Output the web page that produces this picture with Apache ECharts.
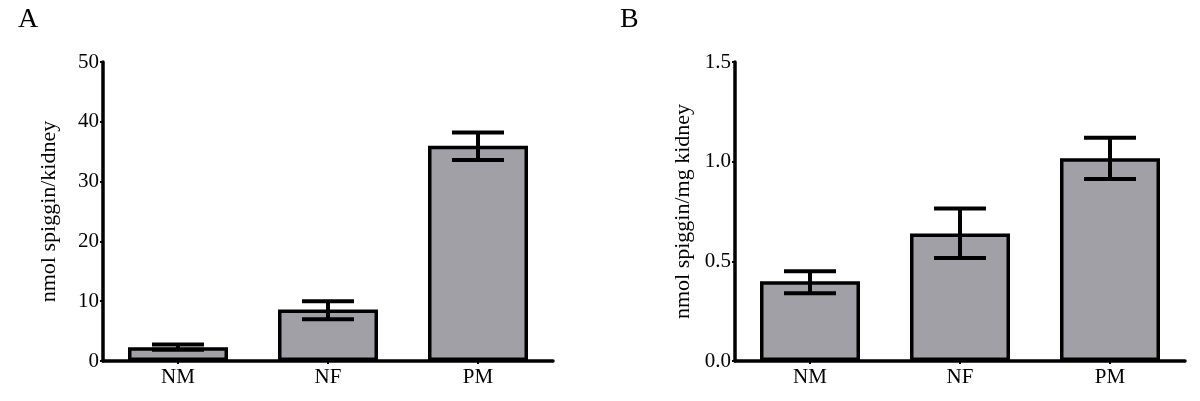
<!DOCTYPE html>
<html>
<head>
<meta charset="utf-8">
<script src="https://cdn.jsdelivr.net/npm/echarts@6/dist/echarts.min.js"></script>
<style>
  html, body { margin: 0; padding: 0; background: #fff; }
  #chart { width: 1200px; height: 401px; }
</style>
</head>
<body>
<div id="chart"></div>
<script>
// data
const groups = ['NM', 'NF', 'PM'];

// panel A: nmol spiggin per kidney
const perKidneyMean = [2.3, 8.6, 36.0];
const perKidneyLow = [1.9, 7.0, 33.6];
const perKidneyHigh = [2.75, 10.0, 38.2];

// panel B: nmol spiggin per mg kidney
const perMgMean = [0.40, 0.64, 1.017];
const perMgLow = [0.34, 0.517, 0.913];
const perMgHigh = [0.45, 0.765, 1.12];

const fontFamily = '"Liberation Serif", "DejaVu Serif", serif';
const barFill = '#a1a0a6';
const ink = '#000';

const makeErrorData = (low, high) => groups.map((g, i) => [i, low[i], high[i]]);

const renderErrorBar = (params, api) => {
    const x = api.value(0);
    const lo = api.coord([x, api.value(1)]);
    const hi = api.coord([x, api.value(2)]);
    const half = 26;
    const style = { stroke: ink, lineWidth: 4 };
    return {
        type: 'group',
        children: [
            { type: 'line', shape: { x1: lo[0], y1: lo[1], x2: hi[0], y2: hi[1] }, style },
            { type: 'line', shape: { x1: hi[0] - half, y1: hi[1], x2: hi[0] + half, y2: hi[1] }, style },
            { type: 'line', shape: { x1: lo[0] - half, y1: lo[1], x2: lo[0] + half, y2: lo[1] }, style }
        ]
    };
};

const axisLine = { show: true, lineStyle: { color: ink, width: 3.5 } };
const labelStyle = { color: ink, fontFamily, fontSize: 21 };

const makeXAxis = gridIndex => ({
    type: 'category',
    gridIndex,
    data: groups,
    axisLine,
    axisTick: { show: true, alignWithLabel: true, length: 3, lineStyle: { color: ink, width: 2 } },
    axisLabel: { ...labelStyle, margin: 6 },
    splitLine: { show: false }
});

const makeYAxis = (gridIndex, name, max, interval, nameGap, fmt) => ({
    type: 'value',
    gridIndex,
    min: 0,
    max,
    interval,
    name,
    nameLocation: 'middle',
    nameGap,
    nameTextStyle: { color: ink, fontFamily, fontSize: 22 },
    axisLine,
    axisTick: { show: true, length: 3, lineStyle: { color: ink, width: 2 } },
    axisLabel: { ...labelStyle, margin: 4, formatter: fmt },
    splitLine: { show: false }
});

const makeBar = (idx, data) => ({
    type: 'bar',
    xAxisIndex: idx,
    yAxisIndex: idx,
    data,
    barWidth: 100,
    itemStyle: { color: barFill, borderColor: ink, borderWidth: 3.5 },
    silent: true,
    z: 2
});

const makeErr = (idx, low, high) => ({
    type: 'custom',
    xAxisIndex: idx,
    yAxisIndex: idx,
    data: makeErrorData(low, high),
    renderItem: renderErrorBar,
    silent: true,
    z: 3
});

const chart = echarts.init(document.getElementById('chart'));
chart.setOption({
    animation: false,
    backgroundColor: '#fff',
    title: [
        { text: 'A', left: 13, top: 1, textStyle: { color: ink, fontFamily, fontSize: 28, fontWeight: 'normal' } },
        { text: 'B', left: 615, top: 1, textStyle: { color: ink, fontFamily, fontSize: 28, fontWeight: 'normal' } }
    ],
    grid: [
        { left: 103, top: 62, width: 450, height: 299 },
        { left: 735, top: 62, width: 450, height: 299 }
    ],
    xAxis: [makeXAxis(0), makeXAxis(1)],
    yAxis: [
        makeYAxis(0, 'nmol spiggin/kidney', 50, 10, 43, v => String(v)),
        makeYAxis(1, 'nmol spiggin/mg kidney', 1.5, 0.5, 41, v => v.toFixed(1))
    ],
    series: [
        makeBar(0, perKidneyMean),
        makeErr(0, perKidneyLow, perKidneyHigh),
        makeBar(1, perMgMean),
        makeErr(1, perMgLow, perMgHigh)
    ]
});
</script>
</body>
</html>
